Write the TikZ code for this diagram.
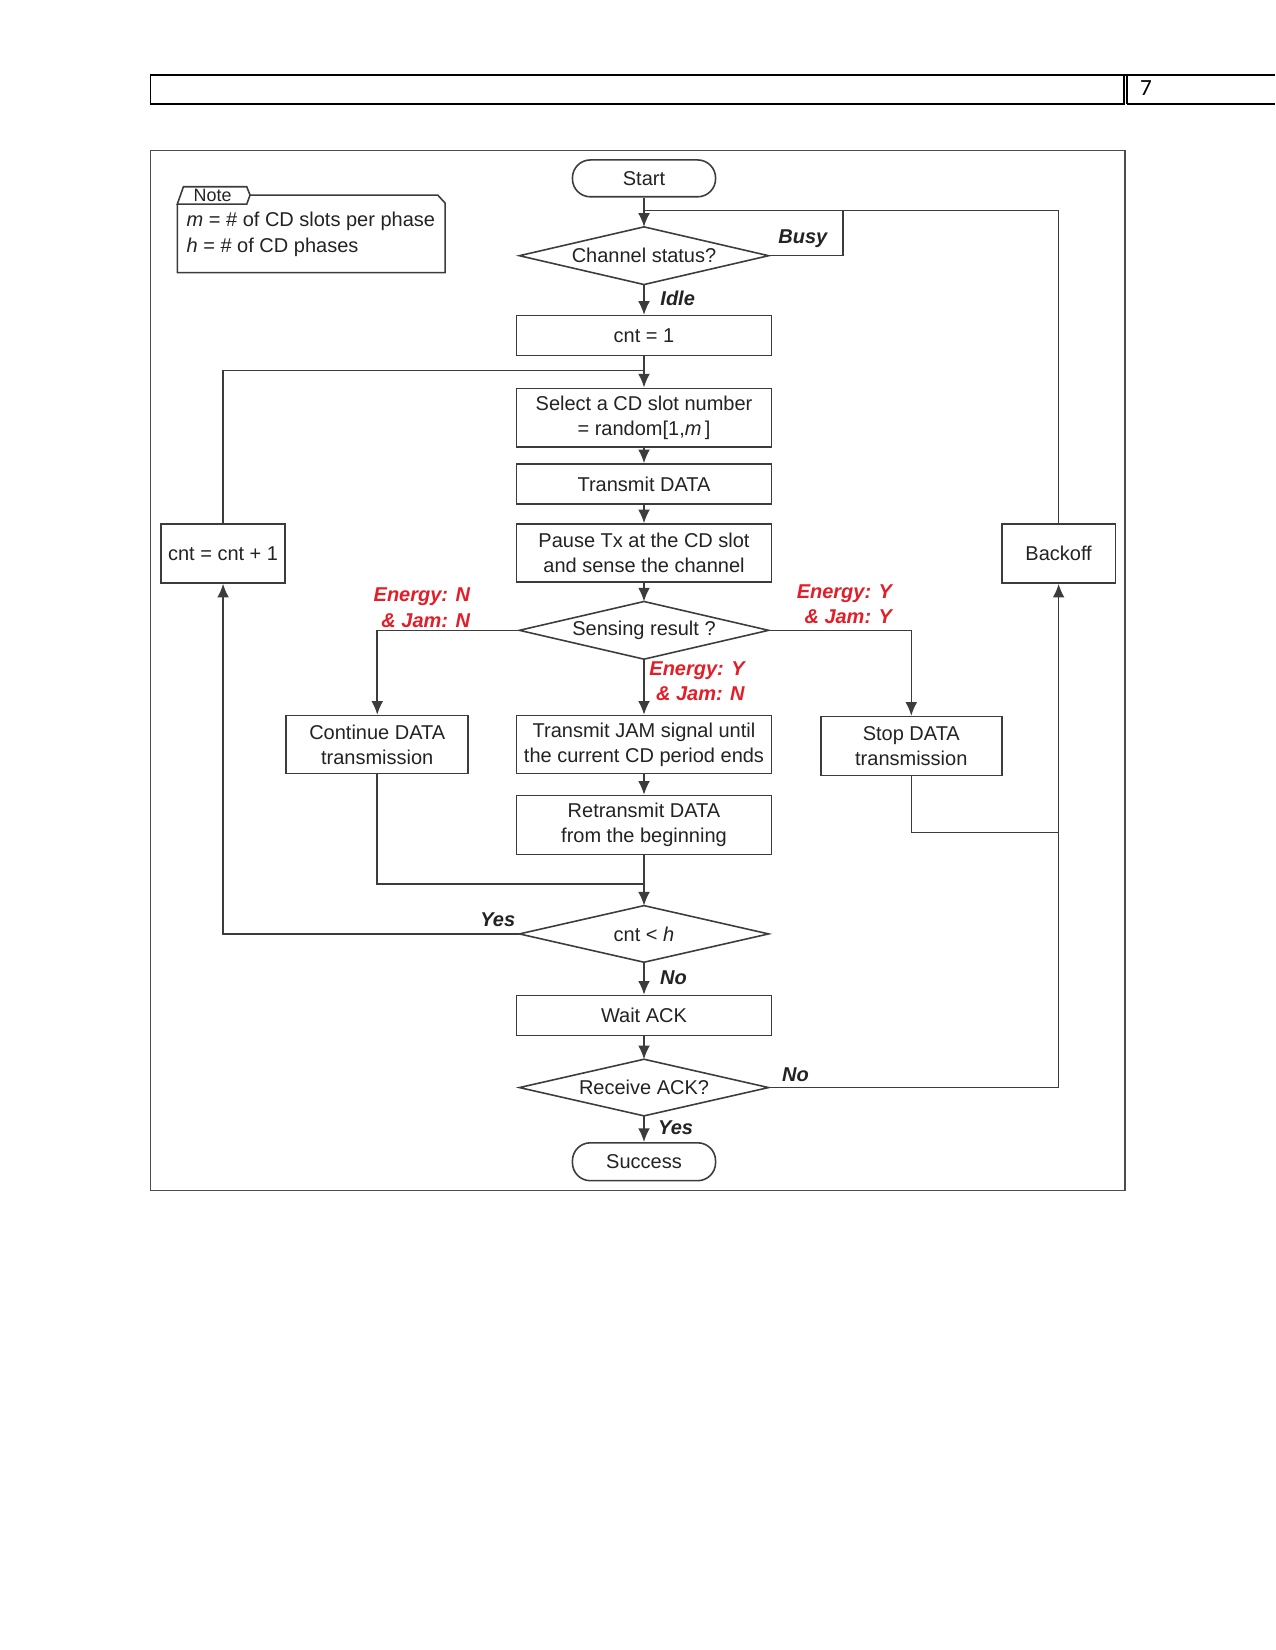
\documentclass[tikz,border=0pt]{standalone}
\usepackage{fontspec}
\setmainfont{Liberation Sans}
\newfontfamily\hdrfont{Carlito}
\usetikzlibrary{arrows.meta}
\definecolor{linec}{RGB}{60,60,60}
\definecolor{textc}{RGB}{35,35,35}
\definecolor{redc}{RGB}{226,30,40}
\newcommand{\fs}{\fontsize{9.5}{12}\selectfont}
\begin{document}
\begin{tikzpicture}[x=0.5pt,y=-0.5pt,
  line/.style={draw=linec, line width=0.75pt},
  arr/.style={line, -{Latex[length=6.5pt,width=5.6pt]}},
  box/.style={draw=linec, line width=0.75pt, rectangle, align=center, inner sep=0pt, text=textc, font=\fs},
  term/.style={box, rounded corners=8.5pt},
  dia/.style={rectangle, align=center, inner sep=0pt, text=textc, font=\fs, minimum width=118pt, minimum height=27pt},
  lab/.style={font=\fs\bfseries\itshape, text=textc, inner sep=0pt},
  rlab/.style={font=\fs\bfseries\itshape, text=redc, inner sep=0pt, align=right}]
\useasboundingbox (0,0) rectangle (1212,1568);
\fill[white] (0,0) rectangle (1212,1568);
% header
\draw[black, line width=0.8pt] (143,71) rectangle (1068,99);
\draw[black, line width=0.8pt] (1071,71) -- (1071,99);
\draw[black, line width=0.8pt] (1068,71) -- (1212,71);
\draw[black, line width=0.8pt] (1071,99) -- (1212,99);
\node[font=\hdrfont\fontsize{11}{13}\selectfont, anchor=west, inner sep=0pt] (pg) at (1083,84) {7};
% frame
\draw[draw=black!70, line width=0.6pt] (143,143) rectangle (1069,1131);
% note
\draw[line] (168.5,194) -- (168.5,259) -- (423,259) -- (423,193) -- (416,185.4) -- (237.6,185.4);
\draw[line] (168.5,194) -- (174.3,177.5) -- (234.5,177.5) -- (237.6,185.4) -- (234.5,194) -- cycle;
\node[font=\fontsize{8.5}{10}\selectfont, text=textc, inner sep=0pt] (notet) at (202,186) {Note};
\node[font=\fs, text=textc, anchor=west, inner sep=0pt] (n1) at (177,210.5) {\textit{m} = \# of CD slots per phase};
\node[font=\fs, text=textc, anchor=west, inner sep=0pt] (n2) at (177,235) {\textit{h} = \# of CD phases};
% nodes
\node[term, minimum width=68pt, minimum height=17.5pt] (start) at (612,169.5) {Start};
\node[dia] (ch) at (612,243) {Channel status?};
\node[box, minimum width=121pt, minimum height=19pt] (cnt1) at (612,319) {cnt = 1};
\node[box, minimum width=121pt, minimum height=28pt] (sel) at (612,397) {Select a CD slot number\\= random[1,\textit{m}\,]};
\node[box, minimum width=121pt, minimum height=19pt] (tx) at (612,460) {Transmit DATA};
\node[box, minimum width=121pt, minimum height=27.5pt] (pause) at (612,525.5) {Pause Tx at the CD slot\\and sense the channel};
\node[dia] (sens) at (612,599) {Sensing result ?};
\node[box, minimum width=86.5pt, minimum height=27.5pt] (cont) at (358.5,707.5) {Continue DATA\\transmission};
\node[box, minimum width=121pt, minimum height=27.5pt] (jam) at (612,707.5) {Transmit JAM signal until\\the current CD period ends};
\node[box, minimum width=86pt, minimum height=28pt] (stop) at (866,709) {Stop DATA\\transmission};
\node[box, minimum width=121pt, minimum height=28pt] (retx) at (612,784) {Retransmit DATA\\from the beginning};
\node[dia, minimum height=26.5pt] (cnth) at (612,887.5) {cnt < \textit{h}};
\node[box, minimum width=121pt, minimum height=19pt] (wait) at (612,965) {Wait ACK};
\node[dia, minimum height=26.5pt] (ack) at (612,1033.5) {Receive ACK?};
\node[term, minimum width=68pt, minimum height=18pt] (succ) at (612,1104) {Success};
\node[box, minimum width=59pt, minimum height=28pt] (inc) at (212,526) {cnt = cnt + 1};
\node[box, minimum width=54pt, minimum height=28pt] (back) at (1006,526) {Backoff};
% diamonds
\foreach \d in {ch,sens,cnth,ack}
  \draw[line] (\d.west) -- (\d.north) -- (\d.east) -- (\d.south) -- cycle;
% junction points
\coordinate (j1) at (612,200);
\coordinate (jb) at (801,200);
\coordinate (j2) at (612,352);
\coordinate (j3) at (612,840);
\coordinate (j4) at (1006,791);
% connectors
\draw[arr] (start.south) -- (ch.north);
\draw[line] (back.north) |- (j1);
\draw[line] (ch.east) -| (jb);
\draw[arr] (ch.south) -- (cnt1.north);
\draw[arr] (cnt1.south) -- (sel.north);
\draw[line] (inc.north) |- (j2);
\draw[arr] (sel.south) -- (tx.north);
\draw[arr] (tx.south) -- (pause.north);
\draw[arr] (pause.south) -- (sens.north);
\draw[arr] (sens.west) -| (cont.north);
\draw[arr] (sens.south) -- (jam.north);
\draw[arr] (sens.east) -| (stop.north);
\draw[arr] (jam.south) -- (retx.north);
\draw[arr] (retx.south) -- (cnth.north);
\draw[line] (cont.south) |- (j3);
\draw[line] (stop.south) |- (j4);
\draw[arr] (cnth.west) -| (inc.south);
\draw[arr] (cnth.south) -- (wait.north);
\draw[arr] (wait.south) -- (ack.north);
\draw[arr] (ack.east) -| (back.south);
\draw[arr] (ack.south) -- (succ.north);
% labels
\node[lab] (lbusy) at (763,227) {Busy};
\node[lab] (lidle) at (644,284) {Idle};
\node[rlab, anchor=east] (lnn) at (447,577.5) {Energy: N\\\& Jam: N};
\node[rlab, anchor=east] (lyn) at (708,647.5) {Energy: Y\\\& Jam: N};
\node[rlab, anchor=east] (lyy) at (848,574.5) {Energy: Y\\\& Jam: Y};
\node[lab] (lyes1) at (473,874) {Yes};
\node[lab] (lno1) at (640,929) {No};
\node[lab] (lno2) at (756,1021) {No};
\node[lab] (lyes2) at (642,1072) {Yes};
\end{tikzpicture}
\end{document}
